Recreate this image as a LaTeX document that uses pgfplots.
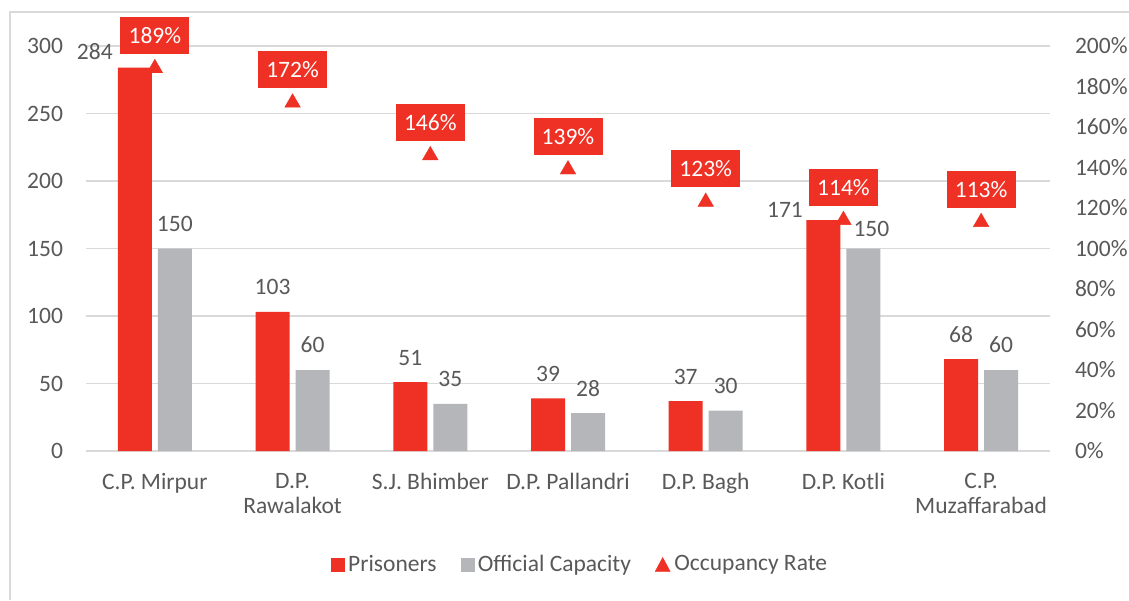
\documentclass[border=0pt]{standalone}
\usepackage{pgfplots}
\pgfplotsset{compat=1.18}
\usepackage{pgfplotstable}
\usepackage{fontspec}
\setmainfont{Carlito}
\definecolor{ored}{HTML}{EE3124}
\definecolor{ogray}{HTML}{B5B6BA}
\definecolor{gridc}{HTML}{D9D9D9}
\definecolor{txt}{HTML}{595959}
\newcommand{\cfont}{\fontsize{23.5}{25}\selectfont}

\pgfplotstableread{
x y dx dy
0 284 -40 15.6
1 103 0 24.5
2 51 0 24.5
3 39 0 24.5
4 37 0 24.5
5 171 -38.4 10.7
6 68 0 24.5
}\prisoners
\pgfplotstableread{
x y dx dy
0 150 0 25
1 60 0 25
2 35 0 25
3 28 0 25
4 30 0 25
5 150 8 20
6 60 0 25
}\capacity
\pgfplotstableread{
x y
0 189
1 172
2 146
3 139
4 123
5 114
6 113
}\occupancy

\begin{document}
\begin{tikzpicture}
\cfont
\useasboundingbox (0,0) rectangle (1129pt,600pt);
\fill[white] (0,0) rectangle (1129pt,600pt);
\draw[gridc, line width=1.2pt] (10pt,0) -- (10pt,588pt) -- (1129pt,588pt);
\pgfplotsset{
  common/.style={
    at={(86pt,149pt)}, anchor=south west,
    scale only axis, width=964pt, height=405pt,
    xmin=-0.5, xmax=6.5,
    major tick length=0pt,
    axis line style={draw=none},
    tick label style={font=\cfont, text=txt},
    /pgf/number format/assume math mode=true,
    clip=false,
  }
}
\begin{axis}[common,
  ymin=0, ymax=300, ytick={0,50,...,300},
  ymajorgrids, grid style={gridc, line width=1.2pt},
  ybar=6pt, bar width=34pt,
  xtick={0,...,6},
  xticklabels={C.P. Mirpur, {D.P.\\Rawalakot}, S.J. Bhimber, D.P. Pallandri, D.P. Bagh, D.P. Kotli, {C.P.\\Muzaffarabad}},
  xticklabel style={align=center, yshift=-14pt},
  yticklabel style={xshift=-15pt},
  nodes near coords,
  visualization depends on={\thisrow{dx} \as \dx},
  visualization depends on={\thisrow{dy} \as \dy},
  nodes near coords style={anchor=center, xshift=\dx pt, yshift=\dy pt, text=txt, font=\cfont},
]
\addplot[fill=ored, draw=none] table[x=x,y=y] {\prisoners};
\addplot[fill=ogray, draw=none] table[x=x,y=y] {\capacity};
\end{axis}
\begin{axis}[common,
  ymin=0, ymax=200, ytick={0,20,...,200},
  axis x line=none,
  axis y line*=right,
  yticklabel={\pgfmathprintnumber{\tick}\%},
  yticklabel style={anchor=west, xshift=17pt},
  legend style={at={(0.5124,-0.2815)}, anchor=center, draw=none, fill=none,
    legend columns=-1, font=\cfont, text=txt,
    /tikz/every odd column/.append style={column sep=2pt},
    /tikz/every even column/.append style={column sep=22pt}},
  legend cell align=left,
]
\addlegendimage{legend image code/.code={\fill[ored] (0pt,-6.5pt) rectangle (13pt,6.5pt);}}
\addlegendentry{Prisoners}
\addlegendimage{legend image code/.code={\fill[ogray] (0pt,-6.5pt) rectangle (13pt,6.5pt);}}
\addlegendentry{Official Capacity}
\addlegendimage{legend image code/.code={\fill[ored] (0pt,-6.5pt) -- (15pt,-6.5pt) -- (7.5pt,7.5pt) -- cycle;}}
\addlegendentry{Occupancy Rate}
\addplot[forget plot, only marks, mark=triangle*, mark size=9pt, color=ored,
  nodes near coords={\pgfmathprintnumber{\pgfplotspointmeta}\%},
  nodes near coords style={fill=ored, text=white, anchor=center, yshift=33pt,
    minimum width=69pt, minimum height=37pt, inner sep=0pt,
    font=\cfont}] table[x=x,y=y] {\occupancy};
\end{axis}
\end{tikzpicture}
\end{document}
